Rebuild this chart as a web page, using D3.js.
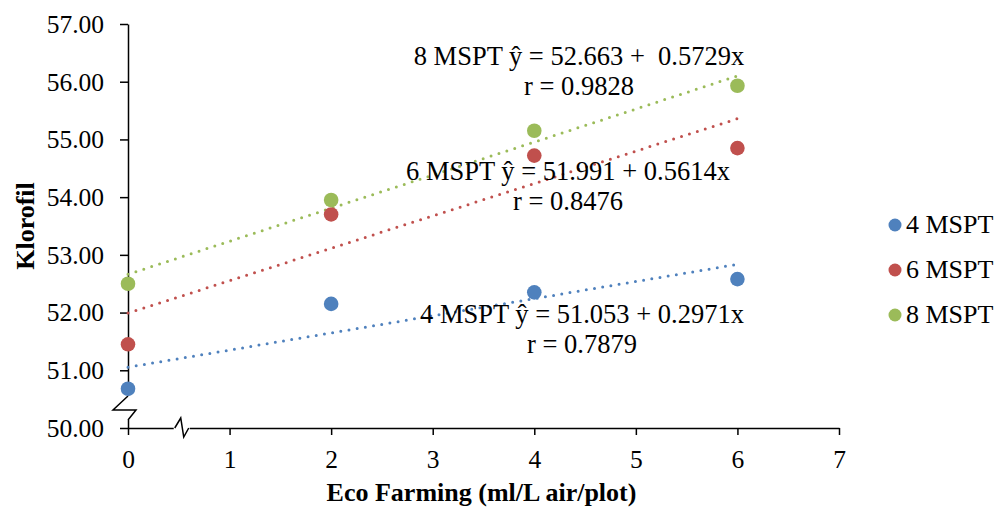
<!DOCTYPE html>
<html lang="id">
<head>
    <meta charset="UTF-8">
    <title>Klorofil - Eco Farming</title>
    <script src="https://d3js.org/d3.v7.min.js"></script>
    <style>
        body { margin: 0; background: #fff; }
        svg text { font-family: "Liberation Serif", "Times New Roman", serif; fill: #000; }
        .axis text { font-size: 25.5px; }
        .axis path, .axis line { stroke: #000; stroke-width: 1.5; }
        .title { font-size: 26px; font-weight: bold; }
        .eq { font-size: 26.5px; white-space: pre; }
        .legend text { font-size: 26px; }
    </style>
</head>
<body>
<div id="chart"></div>
<script>
    // data
    const doses = [0, 2, 4, 6];
    const seriesNames = ["4 MSPT", "6 MSPT", "8 MSPT"];
    const mspt4 = [50.68, 52.15, 52.35, 52.58];
    const mspt6 = [51.45, 53.70, 54.72, 54.85];
    const mspt8 = [52.50, 53.95, 55.15, 55.93];
    const intercepts = [51.053, 51.991, 52.663];
    const slopes = [0.2971, 0.5614, 0.5729];
    const eqLines = [
        ["4 MSPT ŷ = 51.053 + 0.2971x", "r = 0.7879"],
        ["6 MSPT ŷ = 51.991 + 0.5614x", "r = 0.8476"],
        ["8 MSPT ŷ = 52.663 +  0.5729x", "r = 0.9828"]
    ];
    const xTicks = [0, 1, 2, 3, 4, 5, 6, 7];
    const yTicks = [50, 51, 52, 53, 54, 55, 56, 57];
    const colors = ["#4F81BD", "#C0504D", "#9BBB59"];

    const W = 1002, H = 511;
    const margin = { top: 24, right: 163, bottom: 83, left: 128 };

    const svg = d3.select("#chart").append("svg")
        .attr("width", W).attr("height", H);

    const x = d3.scaleLinear().domain([0, 7]).range([margin.left, W - margin.right]);
    const y = d3.scaleLinear().domain([50, 57]).range([H - margin.bottom, margin.top]);

    // eixos
    svg.append("g")
        .attr("class", "axis")
        .attr("transform", `translate(0,${y(50)})`)
        .call(d3.axisBottom(x).tickValues(xTicks).tickSize(7).tickSizeOuter(0).tickPadding(15).tickFormat(d3.format("d")));

    svg.append("g")
        .attr("class", "axis")
        .attr("transform", `translate(${x(0)},0)`)
        .call(d3.axisLeft(y).tickValues(yTicks).tickSize(8).tickSizeOuter(0).tickPadding(16).tickFormat(d3.format(".2f")))
        .selectAll("text").attr("dy", "0.33em");

    // axis breaks
    const yb = y(50) - 32;
    svg.append("rect").attr("x", x(0) - 3).attr("y", yb).attr("width", 6).attr("height", 24).attr("fill", "#fff");
    svg.append("path")
        .attr("d", `M${x(0)},${yb} L${x(0) - 15},${yb + 14} L${x(0) + 8},${yb + 14} L${x(0)},${yb + 24}`)
        .attr("fill", "none").attr("stroke", "#000").attr("stroke-width", 1.5);
    const xb = x(0.47);
    svg.append("rect").attr("x", xb - 2).attr("y", y(50) - 2).attr("width", 16).attr("height", 4).attr("fill", "#fff");
    svg.append("path")
        .attr("d", `M${xb - 1},${y(50)} L${xb + 5},${y(50) - 10} L${xb + 8},${y(50) + 9} L${xb + 13},${y(50)}`)
        .attr("fill", "none").attr("stroke", "#000").attr("stroke-width", 1.5);

    // linhas de tendência
    const allSeries = [mspt4, mspt6, mspt8];
    allSeries.forEach((vals, i) => {
        svg.append("line")
            .attr("x1", x(0)).attr("y1", y(intercepts[i]))
            .attr("x2", x(6)).attr("y2", y(intercepts[i] + slopes[i] * 6))
            .attr("stroke", colors[i])
            .attr("stroke-width", 3)
            .attr("stroke-linecap", "round")
            .attr("stroke-dasharray", "0,8.3");
    });

    // pontos
    allSeries.forEach((vals, i) => {
        svg.selectAll(".dot" + i)
            .data(vals)
            .enter().append("circle")
            .attr("cx", (d, j) => x(doses[j]))
            .attr("cy", d => y(d))
            .attr("r", 7.3)
            .attr("fill", colors[i]);
    });

    // equações
    const eqPos = [[582, 323], [568, 180], [579, 65]];
    eqLines.forEach((lines, i) => {
        lines.forEach((t, k) => {
            svg.append("text")
                .attr("class", "eq")
                .attr("x", eqPos[i][0])
                .attr("y", eqPos[i][1] + k * 30)
                .attr("text-anchor", "middle")
                .text(t);
        });
    });

    // títulos dos eixos
    svg.append("text")
        .attr("class", "title")
        .attr("x", x(3.5) - 2)
        .attr("y", 501)
        .attr("text-anchor", "middle")
        .text("Eco Farming (ml/L air/plot)");

    svg.append("text")
        .attr("class", "title")
        .attr("transform", `translate(34,${y(53.5)}) rotate(-90)`)
        .attr("text-anchor", "middle")
        .text("Klorofil");

    // legenda
    const legend = svg.append("g").attr("class", "legend");
    seriesNames.forEach((name, i) => {
        const ly = 225 + i * 45;
        legend.append("circle").attr("cx", 895).attr("cy", ly).attr("r", 6.5).attr("fill", colors[i]);
        legend.append("text").attr("x", 906).attr("y", ly + 8).text(name);
    });
</script>
</body>
</html>
